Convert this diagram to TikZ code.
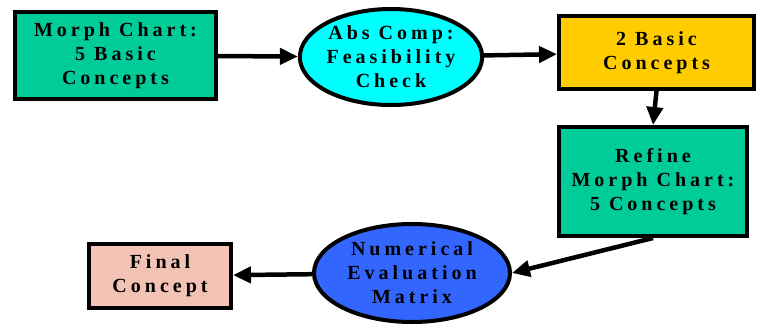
\documentclass[tikz,border=0pt]{standalone}
\usepackage{fontspec}
\usetikzlibrary{arrows.meta,shapes.geometric}
\newfontfamily\labelfont{Liberation Serif}[LetterSpace=20]
\definecolor{Green}{HTML}{00CC99}
\definecolor{Cyan}{HTML}{00FFFF}
\definecolor{Gold}{HTML}{FFCC00}
\definecolor{Blue}{HTML}{3366FF}
\definecolor{Salmon}{HTML}{F2C2B4}
\tikzset{box/.style={draw=black,line width=4pt,align=center,inner sep=0pt},stage/.style={ellipse,draw=black,line width=4pt,align=center,inner sep=0pt},flow/.style={-{Triangle[length=18pt,width=16pt]},line width=4.5pt,draw=black}}

\begin{document}
\begin{tikzpicture}[x=1pt,y=-1pt,every node/.style={font=\labelfont\bfseries\fontsize{20}{24}\selectfont}]
      \useasboundingbox (0,0) rectangle (760,325);
      \node[box,fill=Green,minimum width=201pt,minimum height=87pt](morph) at (115.5,55.5){Morph Chart:\\5 Basic\\Concepts};
      \node[stage,fill=Cyan,minimum width=182pt,minimum height=96pt](abs) at (391,57){Abs Comp:\\Feasibility\\Check};
      \node[box,fill=Gold,minimum width=195pt,minimum height=73pt](basic) at (656.5,52.5){2 Basic\\Concepts};
      \node[box,fill=Green,minimum width=188pt,minimum height=109pt](refine) at (653,181.5){Refine\\Morph Chart:\\5 Concepts};
      \node[stage,fill=Blue,minimum width=196pt,minimum height=98pt](eval) at (412,273){Numerical\\Evaluation\\Matrix};
      \node[box,fill=Salmon,minimum width=142pt,minimum height=64pt](final) at (160,276){Final\\Concept};
      \draw[flow](morph)--(abs);\draw[flow](abs)--(basic);\draw[flow](basic.south)--(refine.north);
      \draw[flow](refine.south)--(eval.east);\draw[flow](eval)--(final);
    \end{tikzpicture}
\end{document}
